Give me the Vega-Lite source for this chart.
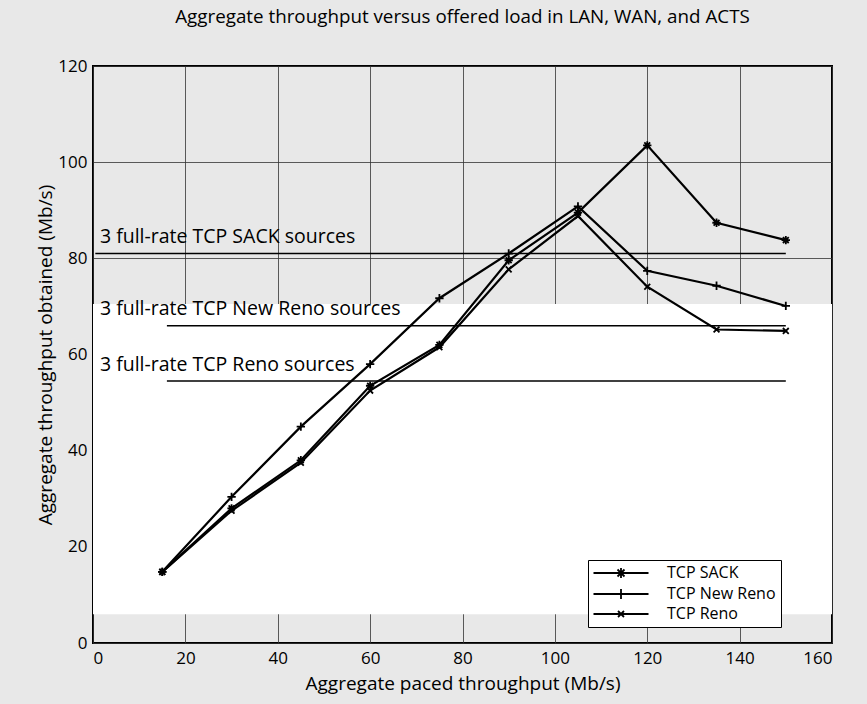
{
  "$schema": "https://vega.github.io/schema/vega-lite/v6.json",
  "width": 739,
  "height": 577,
  "autosize": {"type": "none"},
  "padding": {"left": 93, "top": 66, "right": 35, "bottom": 61},
  "background": "#e8e8e8",
  "title": {"text": "Aggregate throughput versus offered load in LAN, WAN, and ACTS", "font": "Open Sans", "fontSize": 18.8, "fontWeight": "normal", "color": "#000", "anchor": "middle", "offset": 30},
  "config": {
    "view": {"stroke": "#000", "strokeWidth": 2},
    "axis": {"labelFont": "Open Sans", "labelFontSize": 17, "labelColor": "#000", "titleFont": "Open Sans", "titleFontSize": 19, "titleFontWeight": "normal", "titleColor": "#000", "gridColor": "#333", "gridWidth": 1, "gridOpacity": 0.8, "domain": false, "ticks": false}
  },
  "datasets": {
    "series": [
      {"load": 15, "tput": 14.8, "series": "TCP SACK"},
      {"load": 30, "tput": 28, "series": "TCP SACK"},
      {"load": 45, "tput": 38, "series": "TCP SACK"},
      {"load": 60, "tput": 53.5, "series": "TCP SACK"},
      {"load": 75, "tput": 62, "series": "TCP SACK"},
      {"load": 90, "tput": 79.6, "series": "TCP SACK"},
      {"load": 105, "tput": 89.5, "series": "TCP SACK"},
      {"load": 120, "tput": 103.5, "series": "TCP SACK"},
      {"load": 135, "tput": 87.4, "series": "TCP SACK"},
      {"load": 150, "tput": 83.8, "series": "TCP SACK"},
      {"load": 15, "tput": 14.8, "series": "TCP New Reno"},
      {"load": 30, "tput": 30.4, "series": "TCP New Reno"},
      {"load": 45, "tput": 45, "series": "TCP New Reno"},
      {"load": 60, "tput": 58, "series": "TCP New Reno"},
      {"load": 75, "tput": 71.7, "series": "TCP New Reno"},
      {"load": 90, "tput": 81, "series": "TCP New Reno"},
      {"load": 105, "tput": 90.8, "series": "TCP New Reno"},
      {"load": 120, "tput": 77.4, "series": "TCP New Reno"},
      {"load": 135, "tput": 74.3, "series": "TCP New Reno"},
      {"load": 150, "tput": 70.1, "series": "TCP New Reno"},
      {"load": 15, "tput": 14.8, "series": "TCP Reno"},
      {"load": 30, "tput": 27.5, "series": "TCP Reno"},
      {"load": 45, "tput": 37.5, "series": "TCP Reno"},
      {"load": 60, "tput": 52.5, "series": "TCP Reno"},
      {"load": 75, "tput": 61.5, "series": "TCP Reno"},
      {"load": 90, "tput": 77.7, "series": "TCP Reno"},
      {"load": 105, "tput": 88.8, "series": "TCP Reno"},
      {"load": 120, "tput": 74.1, "series": "TCP Reno"},
      {"load": 135, "tput": 65.2, "series": "TCP Reno"},
      {"load": 150, "tput": 64.9, "series": "TCP Reno"}
    ],
    "levels": [
      {"label": "3 full-rate TCP SACK sources", "level": 81, "from": 0.5, "to": 150, "labelAt": 1.5, "textY": 83.2},
      {"label": "3 full-rate TCP New Reno sources", "level": 66, "from": 16, "to": 150, "labelAt": 1.5, "textY": 68.3},
      {"label": "3 full-rate TCP Reno sources", "level": 54.5, "from": 16, "to": 150, "labelAt": 1.5, "textY": 56.5}
    ],
    "region": [
      {"x0": 0, "x1": 160, "y0": 6, "y1": 70.5}
    ]
  },
  "resolve": {"scale": {"shape": "independent"}},
  "layer": [
    {
      "data": {"name": "region"},
      "mark": {"type": "rect", "fill": "#ffffff"},
      "encoding": {
        "x": {"field": "x0", "type": "quantitative", "scale": {"domain": [0, 160], "nice": false}, "axis": {"title": "Aggregate paced throughput (Mb/s)", "values": [0, 20, 40, 60, 80, 100, 120, 140, 160], "grid": true, "labelPadding": 7, "titlePadding": 8}},
        "x2": {"field": "x1"},
        "y": {"field": "y0", "type": "quantitative", "scale": {"domain": [0, 120], "nice": false}, "axis": {"title": "Aggregate throughput obtained (Mb/s)", "values": [0, 20, 40, 60, 80, 100, 120], "grid": true, "labelPadding": 6, "titlePadding": 2}},
        "y2": {"field": "y1"}
      }
    },
    {
      "data": {"name": "levels"},
      "mark": {"type": "rule", "color": "#000", "strokeWidth": 1.5},
      "encoding": {
        "x": {"field": "from", "type": "quantitative"},
        "x2": {"field": "to"},
        "y": {"field": "level", "type": "quantitative"}
      }
    },
    {
      "data": {"name": "levels"},
      "mark": {"type": "text", "align": "left", "baseline": "alphabetic", "font": "Open Sans", "fontSize": 19.5, "color": "#000"},
      "encoding": {
        "x": {"field": "labelAt", "type": "quantitative"},
        "y": {"field": "textY", "type": "quantitative"},
        "text": {"field": "label"}
      }
    },
    {
      "data": {"name": "series"},
      "mark": {"type": "line", "color": "#000", "strokeWidth": 2.2},
      "encoding": {
        "x": {"field": "load", "type": "quantitative"},
        "y": {"field": "tput", "type": "quantitative"},
        "detail": {"field": "series"}
      }
    },
    {
      "data": {"name": "series"},
      "mark": {"type": "point", "filled": false, "color": "#000", "strokeWidth": 1.8, "size": 70, "opacity": 1},
      "encoding": {
        "x": {"field": "load", "type": "quantitative"},
        "y": {"field": "tput", "type": "quantitative"},
        "shape": {
          "field": "series",
          "type": "nominal",
          "scale": {
            "domain": ["TCP SACK", "TCP New Reno", "TCP Reno"],
            "range": ["M-1,0L1,0M0,-1L0,1M-0.7,-0.7L0.7,0.7M-0.7,0.7L0.7,-0.7", "M-1,0L1,0M0,-1L0,1", "M-0.7,-0.7L0.7,0.7M-0.7,0.7L0.7,-0.7"]
          },
          "legend": null
        }
      }
    },
    {
      "data": {"name": "series"},
      "mark": {"type": "point", "filled": false, "color": "#000", "strokeWidth": 1.8, "size": 70, "opacity": 0},
      "encoding": {
        "x": {"field": "load", "type": "quantitative"},
        "y": {"field": "tput", "type": "quantitative"},
        "shape": {
          "field": "series",
          "type": "nominal",
          "scale": {
            "domain": ["TCP SACK", "TCP New Reno", "TCP Reno"],
            "range": ["M-5.5,0L5.5,0M0,-1L0,1M-0.7,-0.7L0.7,0.7M-0.7,0.7L0.7,-0.7", "M-5.5,0L5.5,0M0,-1L0,1", "M-5.5,0L5.5,0M-0.6,-0.6L0.6,0.6M-0.6,0.6L0.6,-0.6"]
          },
          "legend": {
            "title": null,
            "orient": "none",
            "legendX": 495,
            "legendY": 494,
            "direction": "vertical",
            "labelFont": "Open Sans",
            "labelFontSize": 16,
            "labelColor": "#000",
            "symbolStrokeColor": "#000",
            "symbolStrokeWidth": 1.8,
            "symbolOpacity": 1,
            "symbolSize": 100,
            "symbolOffset": 20,
            "labelOffset": 38,
            "strokeColor": "#000",
            "fillColor": "#ffffff",
            "padding": 5,
            "rowPadding": 3,
            "offset": 0
          }
        }
      }
    }
  ]
}
